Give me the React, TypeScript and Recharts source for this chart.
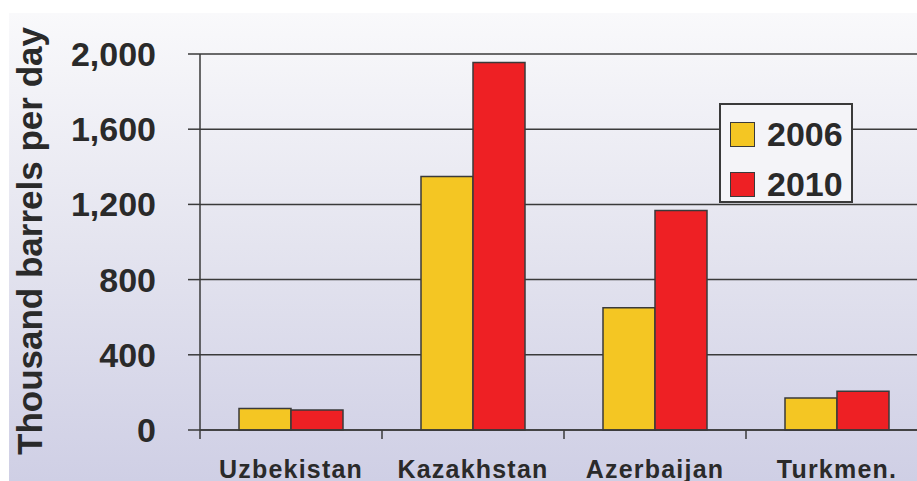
import React from 'react';
import { BarChart, Bar, XAxis, YAxis, CartesianGrid, Legend } from 'recharts';

const categories = ['Uzbekistan', 'Kazakhstan', 'Azerbaijan', 'Turkmen.'];
const values2006 = [115, 1348, 650, 170];
const values2010 = [106, 1955, 1168, 206];
const yTicks = [0, 400, 800, 1200, 1600, 2000];

const data = categories.map((name, i) => ({
  name,
  y2006: values2006[i],
  y2010: values2010[i],
}));

const FONT = '"Liberation Sans", Arial, sans-serif';
const INK = '#2a2a2a';
const LINE = '#3a3a3a';
const X_TICK = 9;

// tick on the category boundary plus the label centred below it
const CategoryTick = (props: any) => {
  const { x, y, payload } = props;
  const half = payload && typeof payload.offset === 'number' ? payload.offset : 91;
  return (
    <g>
      <line x1={x - half} x2={x - half} y1={y - X_TICK} y2={y} stroke={LINE} strokeWidth={1.5} />
      <text
        x={x}
        y={y + 39}
        textAnchor="middle"
        fontFamily={FONT}
        fontWeight="bold"
        fontSize={25}
        letterSpacing={1.2}
        fill={INK}
      >
        {payload.value}
      </text>
    </g>
  );
};

const YLabel = (props: any) => {
  const vb = props.viewBox || { x: 0 };
  const x = vb.x + 42;
  const y = 241;
  return (
    <text
      x={x}
      y={y}
      transform={`rotate(-90, ${x}, ${y})`}
      textAnchor="middle"
      fontFamily={FONT}
      fontWeight="bold"
      fontSize={35}
      fill={INK}
    >
      Thousand barrels per day
    </text>
  );
};

const LegendBox = (props: any) => {
  const items = props.payload || [];
  return (
    <div
      style={{
        border: `2px solid ${LINE}`,
        background: '#f4f4f8',
        width: 134,
        height: 100,
        boxSizing: 'border-box',
        padding: '15px 0 0 9px',
        fontFamily: FONT,
      }}
    >
      {items.map((item: any) => (
        <div key={item.value} style={{ display: 'flex', alignItems: 'center', height: 50 }}>
          <span
            style={{
              display: 'inline-block',
              width: 25,
              height: 25,
              boxSizing: 'border-box',
              background: item.color,
              border: `1.5px solid ${LINE}`,
              marginRight: 12,
              marginTop: -22,
            }}
          />
          <span style={{ fontSize: 34, fontWeight: 'bold', color: INK, marginTop: -22, lineHeight: 1 }}>
            {item.value}
          </span>
        </div>
      ))}
    </div>
  );
};

export default function App() {
  return (
    <div
      style={{
        position: 'absolute',
        left: 0,
        top: 0,
        width: 917,
        height: 481,
        overflow: 'hidden',
        background: '#ffffff',
      }}
    >
      <div
        style={{
          position: 'absolute',
          left: 9,
          top: 13,
          right: 0,
          bottom: 0,
          background: 'linear-gradient(to bottom, #f9f9fb 0%, #e4e4ef 50%, #cfcfe5 100%)',
        }}
      />
      <div style={{ position: 'absolute', left: 0, top: 0 }}>
        <BarChart
          width={940}
          height={481}
          data={data}
          margin={{ top: 54, right: 12, bottom: 0, left: 0 }}
          barSize={52}
          barGap={0}
        >
          <CartesianGrid vertical={false} stroke={LINE} strokeWidth={1.5} />
          <XAxis
            dataKey="name"
            axisLine={{ stroke: LINE, strokeWidth: 1.5 }}
            tickLine={false}
            tickSize={X_TICK}
            tickMargin={0}
            height={51}
            interval={0}
            tick={<CategoryTick />}
          />
          <YAxis
            width={200}
            domain={[0, 2000]}
            ticks={yTicks}
            interval={0}
            axisLine={{ stroke: LINE, strokeWidth: 1.5 }}
            tickLine={{ stroke: LINE, strokeWidth: 1.5 }}
            tickSize={12}
            tickMargin={32}
            tickFormatter={(v: number) => v.toLocaleString('en-US')}
            tick={{ fontFamily: FONT, fontWeight: 'bold', fontSize: 34, fill: INK }}
            label={{ content: <YLabel /> }}
          />
          <Legend
            layout="horizontal"
            align="center"
            verticalAlign="middle"
            content={<LegendBox />}
            wrapperStyle={{ left: 719, top: 103, width: 'auto', height: 'auto' }}
          />
          <Bar dataKey="y2006" name="2006" fill="#f4c623" stroke={LINE} strokeWidth={1.5} isAnimationActive={false} />
          <Bar dataKey="y2010" name="2010" fill="#ee2024" stroke={LINE} strokeWidth={1.5} isAnimationActive={false} />
        </BarChart>
      </div>
    </div>
  );
}
